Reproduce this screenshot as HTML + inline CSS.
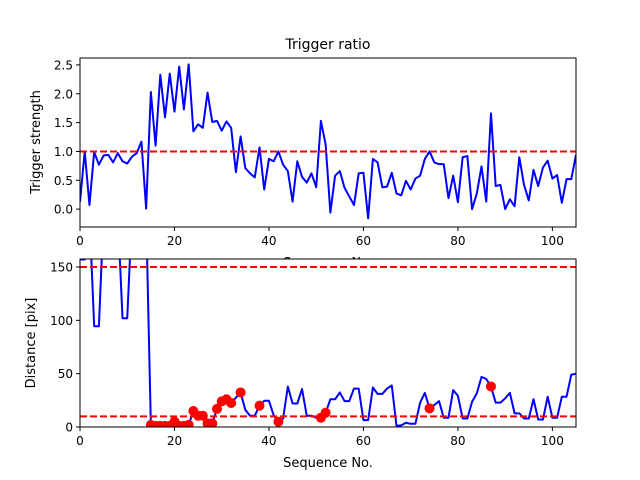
<!DOCTYPE html>
<html><head><meta charset="utf-8"><style>
body{margin:0;background:#fff;}
svg{display:block;font-family:"DejaVu Sans","Liberation Sans",sans-serif;}
</style></head><body>
<svg id="fig" width="640" height="480" viewBox="0 0 640 480">
<rect width="640" height="480" fill="#fff"/>
</svg>
<script>
const xValues = Array.from({length:106},(_,i)=>i);
const triggerStrength = [0.13,1.0,0.07,0.99,0.77,0.93,0.94,0.81,0.97,0.83,0.79,0.91,0.97,1.17,0.01,2.03,1.1,2.33,1.59,2.35,1.69,2.47,1.73,2.51,1.35,1.47,1.41,2.02,1.51,1.53,1.36,1.52,1.41,0.64,1.26,0.71,0.62,0.55,1.07,0.34,0.87,0.83,1.0,0.77,0.66,0.13,0.83,0.56,0.46,0.62,0.38,1.53,1.12,-0.06,0.58,0.66,0.37,0.22,0.07,0.62,0.63,-0.16,0.87,0.81,0.38,0.39,0.63,0.27,0.24,0.49,0.34,0.53,0.58,0.87,1.0,0.81,0.78,0.78,0.19,0.58,0.12,0.9,0.92,0.0,0.27,0.74,0.13,1.66,0.4,0.42,0.0,0.17,0.05,0.9,0.42,0.15,0.68,0.4,0.72,0.84,0.53,0.59,0.11,0.52,0.52,0.94];
const distance = [157,157,200,94.5,94.5,200,200,200,200,102,102,200,200,200,200,2,1,1,1,1,5,1,1,2,15,10.6,10.6,3.4,3.4,17,24,26,22.5,27.5,32.4,16,10.6,10.6,20,24.6,24.6,11,5,8,38,22,22,35.6,10.6,10.6,8.7,8.7,13.4,26,26,32.4,24.3,24.3,36,36,6.5,6.5,37,31,31,36,39,1,1.5,4,3,3,22.8,32,17.5,20.6,24.3,8.7,8.7,34.6,29.3,8,8,23.7,31.5,47,45,38,22.8,22.8,26.8,32,12.8,12.8,8,8,26,7,7,28.4,8.7,8.7,28.4,28.4,49,50];
const markerIdx = [15,16,17,18,19,20,21,22,23,24,25,26,27,28,29,30,31,32,34,38,42,51,52,74,87];
const xTicks = [0,20,40,60,80,100];
const topYTicks = [0.0,0.5,1.0,1.5,2.0,2.5];
const botYTicks = [0,50,100,150];
const topThreshold = [1.0];
const botThresholds = [10,150];

const NS="http://www.w3.org/2000/svg";
const svg=document.getElementById('fig');
function mk(tag,attrs,parent){const e=document.createElementNS(NS,tag);for(const k in attrs)e.setAttribute(k,attrs[k]);(parent||svg).appendChild(e);return e;}
const L=80,R=576;
const xs=v=>L+(v-0)/(105-0)*(R-L);

function axes(top,bot,ymin,ymax,name){
  const ys=v=>bot-(v-ymin)/(ymax-ymin)*(bot-top);
  const g=mk('g',{});
  
  
  const bg=mk('rect',{x:L,y:top,width:R-L,height:bot-top,fill:'#fff'},g);
  
  
  const cp='clip-'+name;
  const cl=mk('clipPath',{id:cp},g);mk('rect',{x:L,y:top,width:R-L,height:bot-top},cl);
  return {g,ys,cp,top,bot};
}
function frame(a,yt,fmt,name){
  const f=mk('rect',{x:L,y:a.top,width:R-L,height:a.bot-a.top,fill:'none',stroke:'#000','stroke-width':1},a.g);
  
  
  xTicks.forEach(t=>{const x=xs(t);mk('line',{x1:x,x2:x,y1:a.bot,y2:a.bot+4,stroke:'#000'},a.g);
    const tx=mk('text',{x:x,y:a.bot+18,'text-anchor':'middle','font-size':12},a.g);tx.textContent=t;
    
    });
  yt.forEach(t=>{const y=a.ys(t);mk('line',{x1:L-4,x2:L,y1:y,y2:y,stroke:'#000'},a.g);
    const tx=mk('text',{x:L-7,y:y+4.5,'text-anchor':'end','font-size':12},a.g);tx.textContent=fmt(t);
    
    });
}
function hline(a,v,name){const y=a.ys(v);const l=mk('line',{x1:L,x2:R,y1:y,y2:y,stroke:'#ff0000','stroke-width':2,'stroke-dasharray':'7,3'},a.g);
  
  }
function series(a,vals,name){const d=vals.map((v,i)=>(i?'L':'M')+xs(xValues[i]).toFixed(2)+','+a.ys(v).toFixed(2)).join(' ');
  const p=mk('path',{d:d,fill:'none',stroke:'#0000ff','stroke-width':2,'clip-path':'url(#'+a.cp+')','stroke-linejoin':'round'},a.g);
  
  }

// Top
const A=axes(58,227,-0.31,2.62,'trigger-ratio-axes');
series(A,triggerStrength,'trigger-strength-line');
topThreshold.forEach(v=>hline(A,v,'trigger-threshold-line'));
frame(A,topYTicks,t=>t.toFixed(1),'trigger-ratio');
let t=mk('text',{x:328,y:49,'text-anchor':'middle','font-size':14});t.textContent='Trigger ratio';


t=mk('text',{x:0,y:0,'text-anchor':'middle','font-size':13,transform:'translate(40,142) rotate(-90)'});t.textContent='Trigger strength';


t=mk('text',{x:328,y:267,'text-anchor':'middle','font-size':13});t.textContent='Sequence No.';



// Bottom
const B=axes(259,427,0,157.5,'distance-axes');
series(B,distance,'distance-line');
botThresholds.forEach(v=>hline(B,v,'distance-threshold-line'));
markerIdx.forEach(i=>{const c=mk('circle',{cx:xs(xValues[i]),cy:B.ys(distance[i]),r:5,fill:'#ff0000','clip-path':'url(#'+B.cp+')'},B.g);
  
  });
frame(B,botYTicks,t=>String(t),'distance');
t=mk('text',{x:0,y:0,'text-anchor':'middle','font-size':13,transform:'translate(35,343) rotate(-90)'});t.textContent='Distance [pix]';


t=mk('text',{x:328,y:467,'text-anchor':'middle','font-size':13});t.textContent='Sequence No.';


</script>
</body></html>
